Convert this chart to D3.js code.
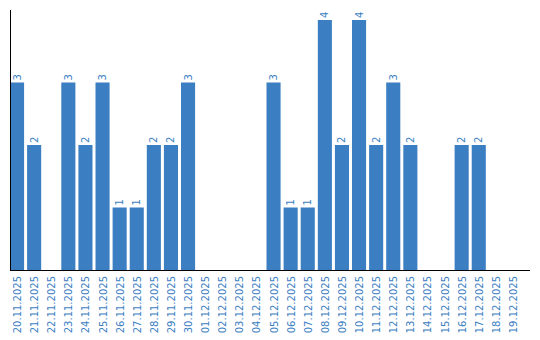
<!DOCTYPE html>
<html><head><meta charset="utf-8">
<script src="https://cdn.jsdelivr.net/npm/d3@7"></script>
<style>body{margin:0;background:#fff}svg{display:block}</style>
</head><body>
<script>
const categories = ["20.11.2025","21.11.2025","22.11.2025","23.11.2025","24.11.2025","25.11.2025","26.11.2025","27.11.2025","28.11.2025","29.11.2025","30.11.2025","01.12.2025","02.12.2025","03.12.2025","04.12.2025","05.12.2025","06.12.2025","07.12.2025","08.12.2025","09.12.2025","10.12.2025","11.12.2025","12.12.2025","13.12.2025","14.12.2025","15.12.2025","16.12.2025","17.12.2025","18.12.2025","19.12.2025"];
const values = [3,2,0,3,2,3,1,1,2,2,3,0,0,0,0,3,1,1,4,2,4,2,3,2,0,0,2,2,0,0];
const yDomain = [0,4];

(function(){
const W=540,H=340, mLeft=10, base=270, mTop=20;
const color="#3b7ec2";
const svg=d3.select("body").append("svg").attr("width",W).attr("height",H);
const x=d3.scaleBand().domain(categories).range([mLeft,mLeft+17*categories.length]).paddingInner(3/17).paddingOuter(0).align(0);
const y=d3.scaleLinear().domain(yDomain).range([base,mTop]);
const data=categories.map((c,i)=>({c,v:values[i]}));

svg.selectAll("rect.bar").data(data.filter(d=>d.v>0)).join("rect")
  .attr("x",d=>x(d.c)).attr("width",x.bandwidth())
  .attr("y",d=>y(d.v)).attr("height",d=>y(0)-y(d.v)).attr("fill",color);

svg.selectAll("text.val").data(data.filter(d=>d.v>0)).join("text")
  .attr("transform",d=>`translate(${x(d.c)+x.bandwidth()/2},${y(d.v)-2}) rotate(-90)`)
  .attr("dy","0.35em").attr("text-anchor","start")
  .attr("font-family","DejaVu Sans").attr("font-size",10).attr("fill",color)
  .text(d=>d.v);

svg.append("line").attr("x1",mLeft+0.5).attr("x2",mLeft+0.5).attr("y1",10).attr("y2",base).attr("stroke","#000");
svg.append("line").attr("x1",mLeft).attr("x2",530).attr("y1",base+0.5).attr("y2",base+0.5).attr("stroke","#000");

svg.selectAll("text.cat").data(categories).join("text")
  .attr("transform",d=>`translate(${x(d)+x.bandwidth()/2+0.5},${base+6}) rotate(-90)`)
  .attr("dy","0.35em").attr("text-anchor","end")
  .attr("font-family","DejaVu Sans").attr("font-size",10).attr("fill",color)
  .text(d=>d);
})();
</script>
</body></html>
